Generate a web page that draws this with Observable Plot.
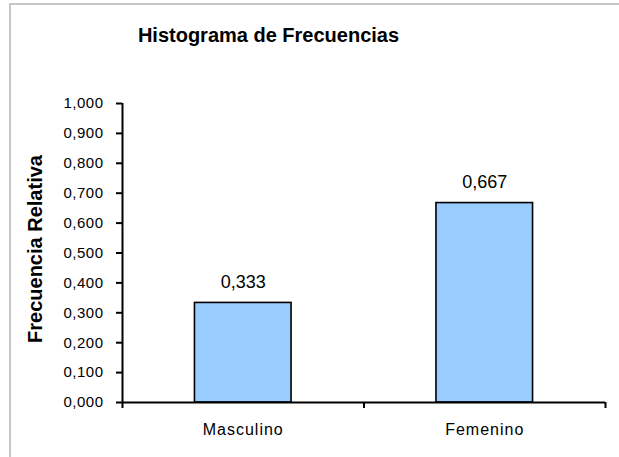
<!DOCTYPE html>
<html>
<head>
<meta charset="utf-8">
<script src="https://cdn.jsdelivr.net/npm/d3@7"></script>
<script src="https://cdn.jsdelivr.net/npm/@observablehq/plot@0.6"></script>
<style>
  html, body { margin: 0; padding: 0; background: #fff; }
  #wrap { position: relative; width: 619px; height: 457px; overflow: hidden; font-family: "Liberation Sans", Arial, sans-serif; }
  #frame { position: absolute; left: 9px; top: 3px; width: 700px; height: 600px; border-top: 2px solid #c6c6c6; border-left: 2px solid #c6c6c6; }
  #title { position: absolute; left: 0; top: 24px; width: 537px; text-align: center; font-weight: bold; font-size: 20px; color: #000; }
  #chart { position: absolute; left: 0; top: 60px; }
  #chart svg { font-family: "Liberation Sans", Arial, sans-serif; overflow: visible; }
  g[aria-label="y-axis tick label"] { font-size: 15px; letter-spacing: 0.5px; }
  g[aria-label="x-axis tick label"] { font-size: 16px; letter-spacing: 1px; }
</style>
</head>
<body>
<div id="wrap">
  <div id="frame"></div>
  <div id="title"></div>
  <div id="chart"></div>
</div>
<script>
const titleText = "Histograma de Frecuencias";
const yLabel = "Frecuencia Relativa";
const categories = ["Masculino", "Femenino"];
const values = [0.333, 0.667];
const valueLabels = ["0,333", "0,667"];
const yTicks = [0, 0.1, 0.2, 0.3, 0.4, 0.5, 0.6, 0.7, 0.8, 0.9, 1.0];

document.getElementById("title").textContent = titleText;

const data = categories.map((c, i) => ({i, cat: c, value: values[i], label: valueLabels[i]}));
const n = categories.length;
const fmt = d => d.toFixed(3).replace(".", ",");

const chart = Plot.plot({
  width: 619,
  height: 397,
  marginTop: 43,
  marginBottom: 55,
  marginLeft: 122,
  marginRight: 14,
  x: {domain: [0, n]},
  y: {domain: [0, 1]},
  marks: [
    Plot.rectY(data, {x1: d => d.i + 0.3, x2: d => d.i + 0.7, y1: 0, y2: "value", fill: "#99CCFF", stroke: "#000", strokeWidth: 1.6}),
    Plot.text(data, {x: d => d.i + 0.5, y: "value", text: "label", dy: -15, lineAnchor: "bottom", fontSize: 18, fill: "#000"}),
    Plot.axisY({ticks: yTicks, tickFormat: fmt, tickSize: 6, tickPadding: 13, strokeWidth: 2, label: null, fill: "#000"}),
    Plot.axisX({ticks: d3.range(0, n + 1), tickFormat: () => "", tickSize: 6, strokeWidth: 2, label: null}),
    Plot.axisX({ticks: d3.range(0, n).map(i => i + 0.5), tickFormat: v => categories[Math.floor(v)], tickSize: 0, tickPadding: 21, label: null, fill: "#000"}),
    Plot.ruleX([0], {stroke: "#000", strokeWidth: 2}),
    Plot.ruleY([0], {stroke: "#000", strokeWidth: 2}),
    Plot.text([yLabel], {text: d => d, frameAnchor: "left", rotate: -90, dx: -87, dy: -4, fontSize: 20, fontWeight: "bold", textAnchor: "middle", lineAnchor: "middle", fill: "#000"})
  ]
});
document.getElementById("chart").appendChild(chart);
</script>
</body>
</html>
